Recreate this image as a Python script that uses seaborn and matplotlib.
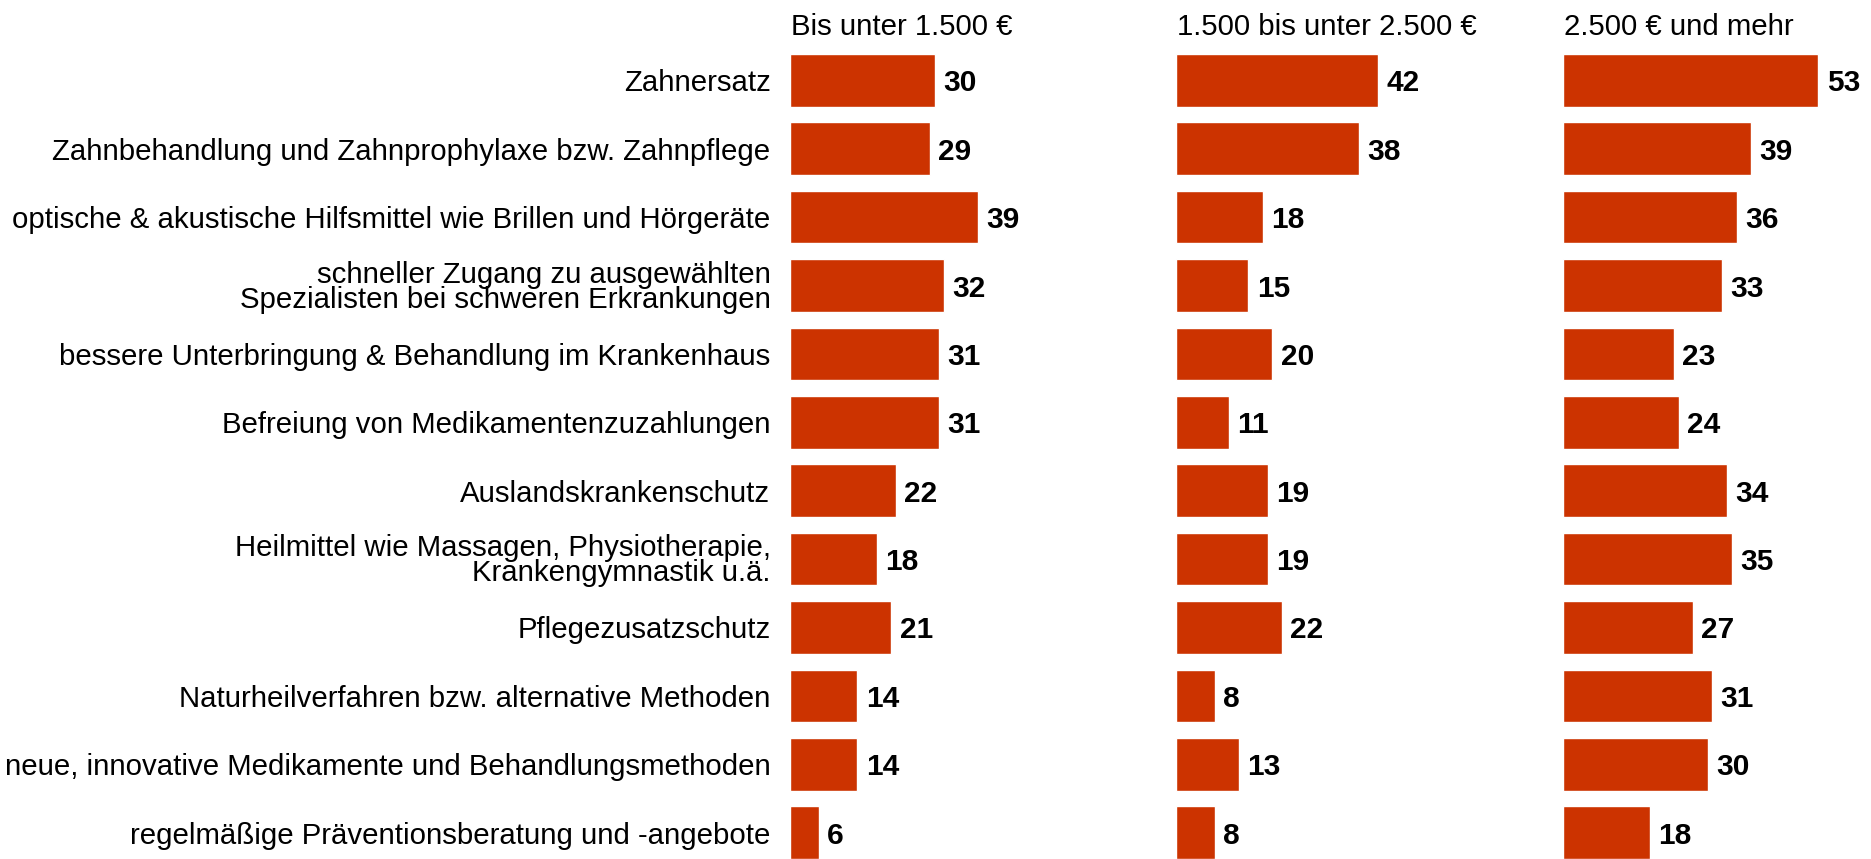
import matplotlib
matplotlib.use("Agg")
import matplotlib.pyplot as plt
import seaborn as sns
import pandas as pd

# Daten
kategorien = [
    "Zahnersatz",
    "Zahnbehandlung und Zahnprophylaxe bzw. Zahnpflege",
    "optische & akustische Hilfsmittel wie Brillen und Hörgeräte",
    "schneller Zugang zu ausgewählten\nSpezialisten bei schweren Erkrankungen",
    "bessere Unterbringung & Behandlung im Krankenhaus",
    "Befreiung von Medikamentenzuzahlungen",
    "Auslandskrankenschutz",
    "Heilmittel wie Massagen, Physiotherapie,\nKrankengymnastik u.ä.",
    "Pflegezusatzschutz",
    "Naturheilverfahren bzw. alternative Methoden",
    "neue, innovative Medikamente und Behandlungsmethoden",
    "regelmäßige Präventionsberatung und -angebote",
]
gruppen = ["Bis unter 1.500 €", "1.500 bis unter 2.500 €", "2.500 € und mehr"]
werte_1 = [30, 29, 39, 32, 31, 31, 22, 18, 21, 14, 14, 6]
werte_2 = [42, 38, 18, 15, 20, 11, 19, 19, 22, 8, 13, 8]
werte_3 = [53, 39, 36, 33, 23, 24, 34, 35, 27, 31, 30, 18]

sns.set_style("white")
plt.rcParams["font.family"] = ["Liberation Sans", "DejaVu Sans"]
plt.rcParams["text.color"] = "black"
plt.rcParams["ytick.color"] = "black"

W, H = 1871, 859
fig = plt.figure(figsize=(W / 100, H / 100), dpi=100)

farbe = "#cc3300"
links = [790, 1176, 1563]
breite = 330
oben, unten = 54, 859

for i, (gruppe, werte) in enumerate(zip(gruppen, [werte_1, werte_2, werte_3])):
    ax = fig.add_axes([links[i] / W, (H - unten) / H, breite / W, (unten - oben) / H])
    df = pd.DataFrame({"kategorie": kategorien, "wert": werte})
    sns.barplot(data=df, y="kategorie", x="wert", color=farbe, orient="h",
                width=0.77, saturation=1, ax=ax)
    ax.set_xlim(0, breite / 4.82)
    ax.set_ylim(len(kategorien) - 1 + 0.385, -0.385)
    for c in ax.containers:
        labels = ax.bar_label(c, fmt="%d", padding=6, fontsize=21.5,
                              fontweight="bold", color="black")
        for t in labels:
            t.set_va("center_baseline")
    ax.set_xlabel("")
    ax.set_ylabel("")
    ax.set_xticks([])
    sns.despine(ax=ax, left=True, bottom=True)
    if i == 0:
        ax.tick_params(axis="y", length=0, pad=14, labelsize=21.2, labelcolor="black")
        for t in ax.get_yticklabels():
            t.set_linespacing(0.88)
    else:
        ax.set_yticks([])
    ax.annotate(gruppe, xy=(0, 1), xycoords="axes fraction", xytext=(1, 14),
                textcoords="offset points", va="baseline", ha="left", fontsize=21.2)

fig.savefig("out.png", dpi=100)
